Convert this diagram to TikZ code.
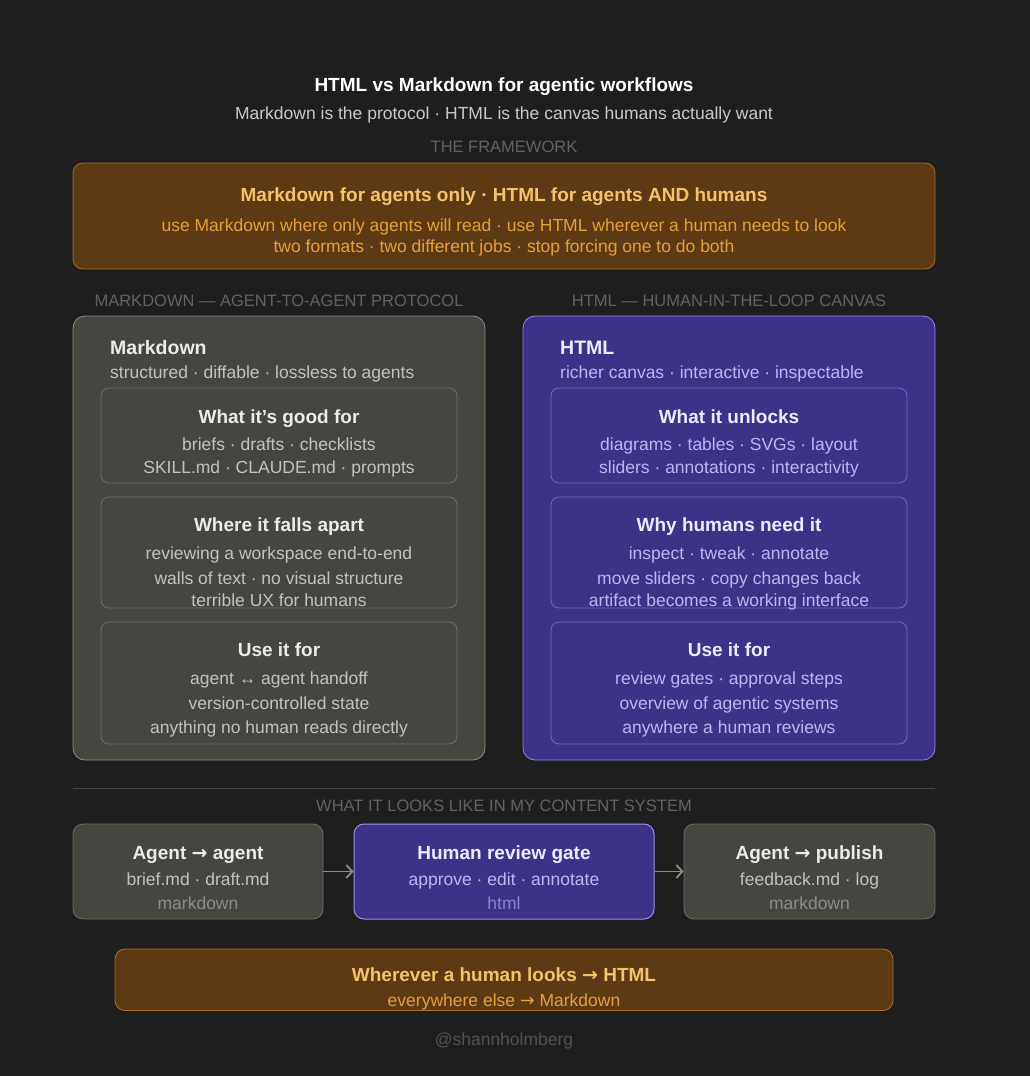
\documentclass[tikz,border=0pt]{standalone}
\usepackage{fontspec}
\setmainfont{Liberation Sans}
\newfontfamily\arrowfont{DejaVu Sans}
\usetikzlibrary{positioning}
\usetikzlibrary{arrows.meta}
\definecolor{bgc}{HTML}{1E1E1E}
\definecolor{gfill}{HTML}{46453F}
\definecolor{gline}{HTML}{8C8B85}
\definecolor{gin}{HTML}{6E6D68}
\definecolor{bfill}{HTML}{3C3287}
\definecolor{bline}{HTML}{8F86E8}
\definecolor{bin}{HTML}{6F67C9}
\definecolor{ofill}{HTML}{5D3A14}
\definecolor{oline}{HTML}{A8702A}
\definecolor{ohead}{HTML}{F4C36B}
\definecolor{otext}{HTML}{E3A03C}
\definecolor{ghead}{HTML}{ECEBE6}
\definecolor{gtext}{HTML}{C4C2BC}
\definecolor{gmute}{HTML}{8D8C86}
\definecolor{bhead}{HTML}{EEEBFF}
\definecolor{btext}{HTML}{BDB6F5}
\definecolor{bmute}{HTML}{8A82D8}
\definecolor{capsc}{HTML}{626262}
\tikzset{
    panelg/.style = {rectangle, rounded corners=12pt, draw=gline, fill=gfill, line width=0.8pt, inner sep=0pt},
    panelb/.style = {rectangle, rounded corners=12pt, draw=bline, fill=bfill, line width=0.8pt, inner sep=0pt},
    cardg/.style = {rectangle, rounded corners=8pt, draw=gin, fill=gfill, line width=0.8pt, inner sep=0pt, minimum width=356pt},
    cardb/.style = {rectangle, rounded corners=8pt, draw=bin, fill=bfill, line width=0.8pt, inner sep=0pt, minimum width=356pt},
    flowg/.style = {rectangle, rounded corners=10pt, draw=gin, fill=gfill, line width=0.8pt, inner sep=0pt, minimum height=95pt},
    flowb/.style = {rectangle, rounded corners=10pt, draw=bline!90!white, fill=bfill, line width=1pt, inner sep=0pt, minimum height=95pt},
    bannero/.style = {rectangle, rounded corners=10pt, draw=oline, fill=ofill, line width=0.8pt, inner sep=0pt},
    hd/.style = {anchor=base, inner sep=0pt, font=\fontsize{19}{22}\selectfont\bfseries},
    tx/.style = {anchor=base, inner sep=0pt, font=\fontsize{17.5}{20}\selectfont},
    caps/.style = {anchor=base, inner sep=0pt, text=capsc, font=\fontsize{16.5}{20}\selectfont},
    edgeg/.style = {-{Straight Barb[length=6pt,width=13pt]}, line width=1.8pt, draw=gmute},
}
\newcommand{\toarr}{{\arrowfont →}}

\begin{document}
\begin{tikzpicture}[x=1pt,y=-1pt]
\fill[bgc] (0,0) rectangle (1030,1076);
\useasboundingbox (0,0) rectangle (1030,1076);
% header
\node[hd, text=white] at (504,91) (title) {HTML vs Markdown for agentic workflows};
\node[tx, text=gtext!90!white] at (504,119) (subtitle) {Markdown is the protocol · HTML is the canvas humans actually want};
\node[caps] at (504,152) (fwlabel) {THE FRAMEWORK};
%
\node[bannero, minimum width=862pt, minimum height=106pt] at (504,216) (framework) {};
\node[hd, text=ohead] at (504,201) {Markdown for agents only · HTML for agents AND humans};
\node[tx, text=otext] at (504,231) {use Markdown where only agents will read · use HTML wherever a human needs to look};
\node[tx, text=otext] at (504,252.5) {two formats · two different jobs · stop forcing one to do both};
%
\node[caps] at (279,306) (mdlabel) {MARKDOWN — AGENT-TO-AGENT PROTOCOL};
\node[caps] at (729,306) (htlabel) {HTML — HUMAN-IN-THE-LOOP CANVAS};
% markdown column
\node[panelg, minimum width=412pt, minimum height=444pt] at (279,538) (mdpanel) {};
\node[hd, anchor=base west, text=ghead, font=\fontsize{19.5}{22}\selectfont\bfseries] at (110,354) (mdtitle) {Markdown};
\node[tx, anchor=base west, text=gtext] at (110,378.5) (mdsub) {structured · diffable · lossless to agents};
\node[cardg, minimum height=95pt] at (279,435.5) (mdgood) {};
\node[hd, text=ghead] at (279,423.5) {What it’s good for};
\node[tx, text=gtext] at (279,450) {briefs · drafts · checklists};
\node[tx, text=gtext] at (279,473.5) {SKILL.md · CLAUDE.md · prompts};
\node[cardg, minimum height=111pt] at (279,552.5) (mdfalls) {};
\node[hd, text=ghead] at (279,531) {Where it falls apart};
\node[tx, text=gtext] at (279,559.5) {reviewing a workspace end-to-end};
\node[tx, text=gtext] at (279,584.5) {walls of text · no visual structure};
\node[tx, text=gtext] at (279,606) {terrible UX for humans};
\node[cardg, minimum height=122pt] at (279,683) (mduse) {};
\node[hd, text=ghead] at (279,656) {Use it for};
\node[tx, text=gtext] at (279,684) {agent ↔ agent handoff};
\node[tx, text=gtext] at (279,709) {version-controlled state};
\node[tx, text=gtext] at (279,733.5) {anything no human reads directly};
% html column
\node[panelb, minimum width=412pt, minimum height=444pt] at (729,538) (htpanel) {};
\node[hd, anchor=base west, text=bhead, font=\fontsize{19.5}{22}\selectfont\bfseries] at (560,354) (httitle) {HTML};
\node[tx, anchor=base west, text=btext] at (560,378.5) (htsub) {richer canvas · interactive · inspectable};
\node[cardb, minimum height=95pt] at (729,435.5) (htunlock) {};
\node[hd, text=bhead] at (729,423.5) {What it unlocks};
\node[tx, text=btext] at (729,450) {diagrams · tables · SVGs · layout};
\node[tx, text=btext] at (729,473.5) {sliders · annotations · interactivity};
\node[cardb, minimum height=111pt] at (729,552.5) (htwhy) {};
\node[hd, text=bhead] at (729,531) {Why humans need it};
\node[tx, text=btext] at (729,559.5) {inspect · tweak · annotate};
\node[tx, text=btext] at (729,584.5) {move sliders · copy changes back};
\node[tx, text=btext] at (729,606) {artifact becomes a working interface};
\node[cardb, minimum height=122pt] at (729,683) (htuse) {};
\node[hd, text=bhead] at (729,656) {Use it for};
\node[tx, text=btext] at (729,684) {review gates · approval steps};
\node[tx, text=btext] at (729,709) {overview of agentic systems};
\node[tx, text=btext] at (729,733.5) {anywhere a human reviews};
% content system
\draw[line width=0.8pt, draw=bgc!85!white] (73,788) -- (935,788);
\node[caps] at (504,811) (syslabel) {WHAT IT LOOKS LIKE IN MY CONTENT SYSTEM};
\node[flowg, minimum width=250pt] at (198,871.5) (agent) {};
\node[hd, text=ghead] at (198,859) {Agent \toarr{} agent};
\node[tx, text=gtext] at (198,885.5) {brief.md · draft.md};
\node[tx, text=gmute] at (198,909.5) {markdown};
\node[flowb, minimum width=300pt] at (504,871.5) (gate) {};
\node[hd, text=bhead] at (504,859) {Human review gate};
\node[tx, text=btext] at (504,885.5) {approve · edit · annotate};
\node[tx, text=bmute] at (504,909.5) {html};
\node[flowg, minimum width=251pt] at (809.5,871.5) (publish) {};
\node[hd, text=ghead] at (809.5,859) {Agent \toarr{} publish};
\node[tx, text=gtext] at (809.5,885.5) {feedback.md · log};
\node[tx, text=gmute] at (809.5,909.5) {markdown};
%
\draw[edgeg] (agent) -- (gate);
\draw[edgeg] (gate) -- (publish);
%
\node[bannero, minimum width=778pt, minimum height=61.5pt] at (504,979.75) (rule) {};
\node[hd, text=ohead] at (504,981) {Wherever a human looks \toarr{} HTML};
\node[tx, text=otext] at (504,1006) {everywhere else \toarr{} Markdown};
\node[tx, text=capsc!75!bgc] at (504,1045) (handle) {@shannholmberg};
\end{tikzpicture}
\end{document}
